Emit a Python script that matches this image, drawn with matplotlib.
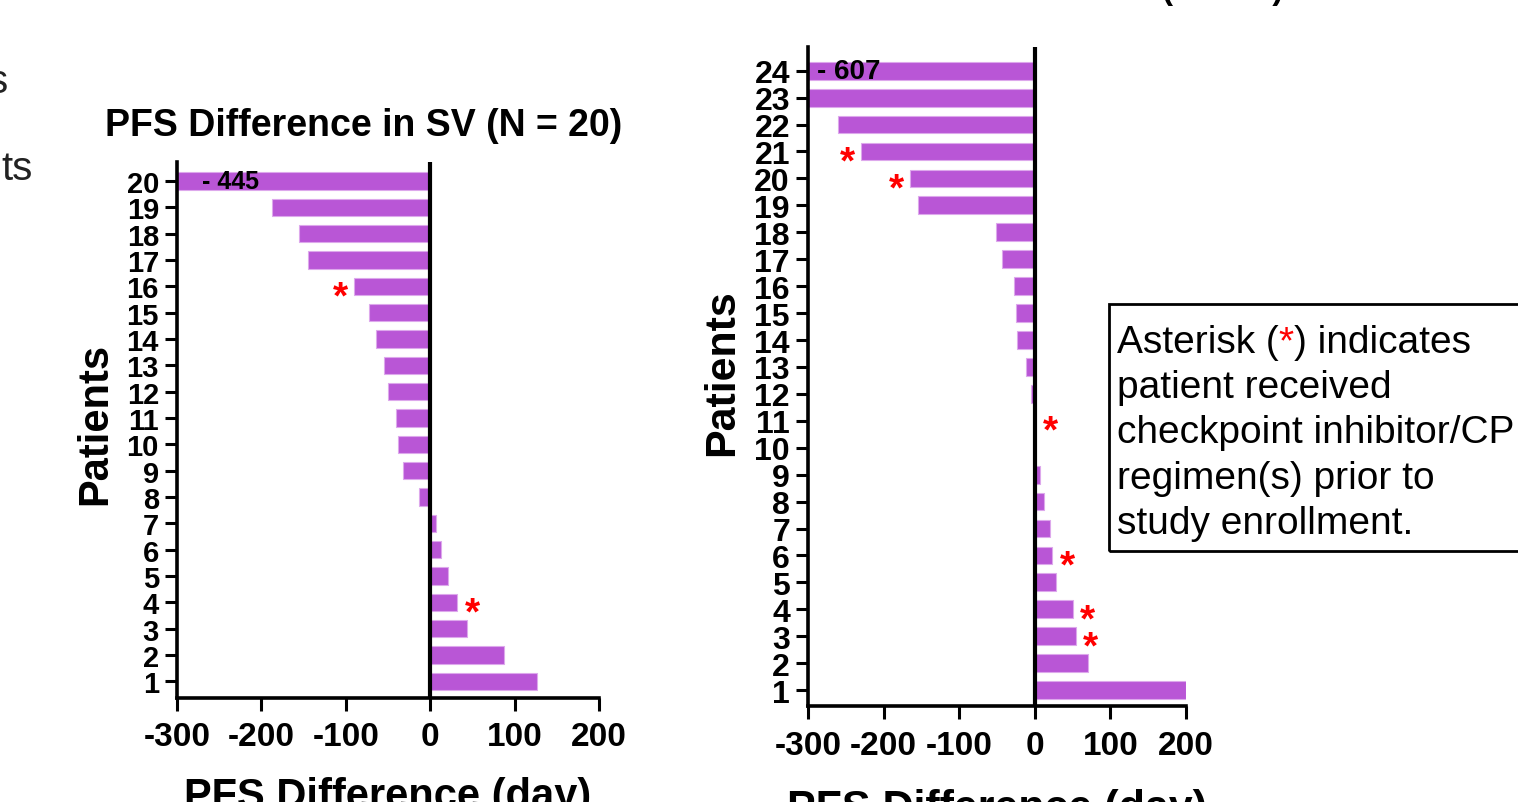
import matplotlib
matplotlib.use("Agg")
import matplotlib.pyplot as plt
from matplotlib.patches import Rectangle

plt.rcParams['font.family'] = ['Liberation Sans', 'DejaVu Sans']

# SV cohort (N = 20): PFS difference per patient (days)
sv_patients = list(range(1, 21))
sv_pfs_diff = [126, 88, 44, 32, 21, 13, 7, -13, -32, -38,
               -40, -50, -55, -64, -73, -90, -145, -155, -188, -445]
sv_asterisk = [4, 16]

# second cohort (N = 24)
cohort2_patients = list(range(1, 25))
cohort2_pfs_diff = [200, 70, 54, 50, 28, 23, 20, 12, 7, 0,
                    0, -5, -11, -23, -25, -27, -43, -51, -154, -165,
                    -230, -260, -310, -607]
cohort2_asterisk = [3, 4, 6, 11, 20, 21]

x_ticks = [-300, -200, -100, 0, 100, 200]

bar_color = '#B956D6'
W, H = 1518, 803


def fx(px):
    return px / W


def fy(py):
    return 1 - py / H


fig = plt.figure(figsize=(W / 100, H / 100), dpi=100)
renderer = fig.canvas.get_renderer()


def draw_panel(ax, patients, values, stars, ylim, ytick_size, big_label, label_x):
    ax.barh(patients, values, height=0.66, color=bar_color,
            edgecolor='#DDA8EC', linewidth=0.8, zorder=2)
    ax.axvline(0, color='black', lw=3, zorder=3)
    ax.set_xlim(-300, 200)
    ax.set_ylim(*ylim)
    ax.set_xticks(x_ticks)
    ax.set_xticklabels([str(v) for v in x_ticks], fontsize=24, fontweight='bold')
    ax.set_yticks(patients)
    ax.set_yticklabels([str(p) for p in patients], fontsize=ytick_size,
                       fontweight='bold')
    ax.tick_params(axis='y', length=9, width=2.2, pad=4)
    ax.tick_params(axis='x', length=9, width=2.2, pad=8)
    for s in ['top', 'right']:
        ax.spines[s].set_visible(False)
    for s in ['left', 'bottom']:
        ax.spines[s].set_linewidth(2.6)
    # the clipped bar gets its value written inside
    ax.text(label_x, patients[-1], big_label, fontsize=ytick_size - 3,
            fontweight='bold', ha='left', va='center', zorder=4)
    for p in stars:
        v = values[p - 1]
        dx = 11 if v >= 0 else -10
        ax.annotate('*', (v, p), xytext=(dx, -15), textcoords='offset points',
                    ha='center', va='baseline', color='red', fontsize=28,
                    fontweight='bold', annotation_clip=False)


# left panel
ax1 = fig.add_axes([fx(177), fy(698.5), fx(599) - fx(177), (698.5 - 163) / H])
draw_panel(ax1, sv_patients, sv_pfs_diff, sv_asterisk, (0.39, 20.72), 21,
           '- 445', -270)

# right panel
ax2 = fig.add_axes([fx(808), fy(707), fx(1186) - fx(808), (707 - 48) / H])
draw_panel(ax2, cohort2_patients, cohort2_pfs_diff, cohort2_asterisk,
           (0.41, 24.88), 23, '- 607', -288)

# titles and axis labels
fig.text(fx(364), fy(136), 'PFS Difference in SV (N = 20)', fontsize=27,
         fontweight='bold', ha='center', va='baseline')
fig.text(fx(1283), fy(-1), '(N = 24)', fontsize=24, fontweight='bold',
         ha='right', va='baseline')
fig.text(fx(388), fy(808), 'PFS Difference (day)', fontsize=30,
         fontweight='bold', ha='center', va='baseline')
fig.text(fx(997), fy(820), 'PFS Difference (day)', fontsize=31,
         fontweight='bold', ha='center', va='baseline')
fig.text(fx(95), fy(424), 'Patients', fontsize=30, fontweight='bold',
         rotation=90, ha='center', va='center')
fig.text(fx(722), fy(373), 'Patients', fontsize=31, fontweight='bold',
         rotation=90, ha='center', va='center')

# slide text cut off at the left edge
fig.text(fx(8), fy(93), 's', fontsize=29, color='#222222', ha='right',
         va='baseline')
fig.text(fx(33), fy(180), 'ts', fontsize=29, color='#222222', ha='right',
         va='baseline')

# note box
fig.add_artist(Rectangle((fx(1109), fy(552)), fx(1700) - fx(1109), (552 - 305) / H,
                         transform=fig.transFigure, fill=False,
                         edgecolor='black', lw=2))
note_lines = ['patient received', 'checkpoint inhibitor/CPI',
              'regimen(s) prior to', 'study enrollment.']
x0 = 1117
base = 353
parts = [('Asterisk (', 'black'), ('*', 'red'), (') indicates', 'black')]
x = x0
for txt, col in parts:
    t = fig.text(fx(x), fy(base), txt, fontsize=28, color=col, va='baseline')
    x += t.get_window_extent(renderer).width
for i, line in enumerate(note_lines):
    fig.text(fx(x0), fy(base + 45.2 * (i + 1)), line, fontsize=28,
             va='baseline')

fig.savefig('out.png', dpi=100)
